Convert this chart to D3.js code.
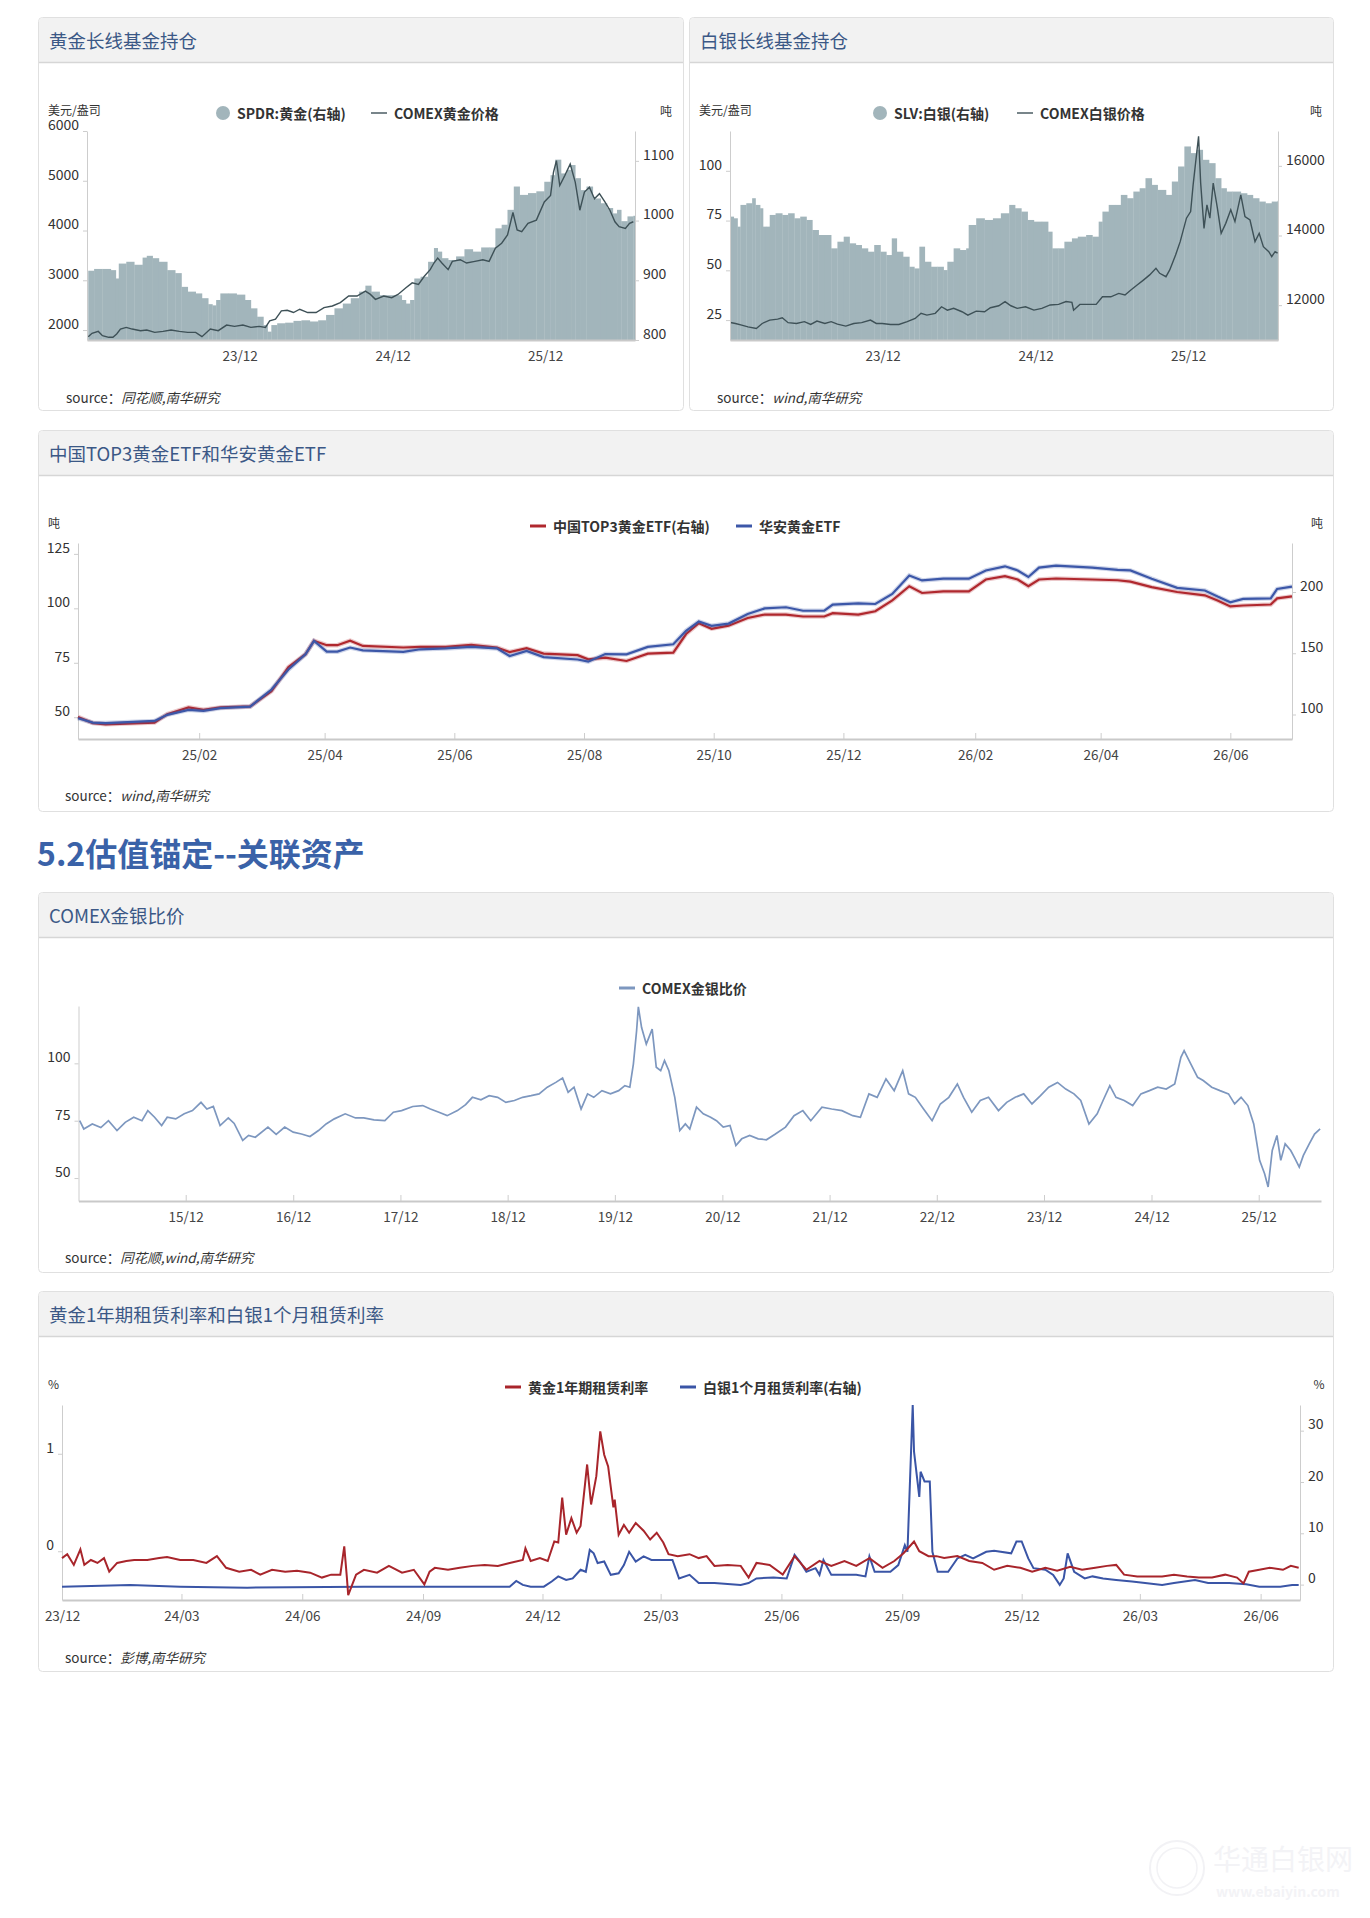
<!DOCTYPE html>
<html>
<head>
<meta charset="utf-8">
<script src="https://cdn.jsdelivr.net/npm/d3@7"></script>
<style>
  body { margin: 0; background: #fff; }
  svg { display: block; font-family: 'Noto Sans CJK SC', 'Noto Sans', sans-serif; }
</style>
</head>
<body>
<svg id="page"></svg>
<script>
// ---- data ----
// SPDR gold holdings, tonnes (right axis)
const goldEtf = [
  ['2022-12-04', 916], ['2022-12-18', 919], ['2023-01-07', 919], ['2023-01-27', 917], ['2023-02-08', 903],
  ['2023-02-15', 928], ['2023-03-05', 931], ['2023-03-24', 926], ['2023-04-13', 938], ['2023-04-23', 941],
  ['2023-05-07', 937], ['2023-05-22', 931], ['2023-06-11', 917], ['2023-06-30', 912], ['2023-07-15', 889],
  ['2023-07-30', 881], ['2023-08-18', 878], ['2023-09-02', 870], ['2023-09-17', 860], ['2023-09-27', 858],
  ['2023-10-06', 867], ['2023-10-16', 878], ['2023-11-05', 878], ['2023-11-24', 876], ['2023-12-14', 867],
  ['2023-12-28', 853], ['2024-01-12', 839], ['2024-01-27', 825], ['2024-02-06', 814], ['2024-02-15', 825],
  ['2024-02-29', 828], ['2024-03-19', 829], ['2024-04-08', 832], ['2024-04-27', 833], ['2024-05-17', 831],
  ['2024-06-06', 833], ['2024-06-25', 842], ['2024-07-15', 853], ['2024-08-04', 861], ['2024-08-23', 870],
  ['2024-09-12', 881], ['2024-09-27', 891], ['2024-10-11', 881], ['2024-10-31', 875], ['2024-11-19', 875],
  ['2024-12-09', 875], ['2024-12-23', 867], ['2025-01-02', 861], ['2025-01-12', 867], ['2025-01-22', 903],
  ['2025-02-06', 906], ['2025-02-24', 931], ['2025-03-10', 954], ['2025-03-19', 948], ['2025-03-29', 937],
  ['2025-04-13', 934], ['2025-05-02', 940], ['2025-05-22', 952], ['2025-06-11', 948], ['2025-07-01', 955],
  ['2025-07-20', 955], ['2025-08-04', 987], ['2025-08-19', 993], ['2025-09-02', 1018], ['2025-09-17', 1057],
  ['2025-10-01', 1043], ['2025-10-21', 1046], ['2025-11-10', 1049], ['2025-11-29', 1065], ['2025-12-14', 1076],
  ['2025-12-25', 1102], ['2026-01-08', 1079], ['2026-01-22', 1085], ['2026-02-01', 1093], ['2026-02-11', 1071],
  ['2026-02-24', 1051], ['2026-03-10', 1057], ['2026-03-25', 1037], ['2026-04-13', 1029], ['2026-04-28', 1021],
  ['2026-05-12', 1012], ['2026-05-22', 1018], ['2026-06-01', 999], ['2026-06-16', 1007], ['2026-06-30', 1008]
]
// COMEX gold, USD/oz (left axis)
const goldPrice = [
  ['2022-12-04', 1867], ['2022-12-13', 1934], ['2022-12-28', 1973], ['2023-01-07', 1887], ['2023-01-22', 1854],
  ['2023-02-01', 1854], ['2023-02-10', 1920], ['2023-02-19', 2020], ['2023-03-05', 2053], ['2023-03-19', 2020],
  ['2023-04-08', 1987], ['2023-04-23', 2000], ['2023-05-12', 1954], ['2023-06-01', 1973], ['2023-06-20', 2000],
  ['2023-07-10', 1973], ['2023-07-30', 1954], ['2023-08-18', 1954], ['2023-09-02', 1867], ['2023-09-22', 2020],
  ['2023-10-11', 1987], ['2023-10-31', 2100], ['2023-11-19', 2073], ['2023-12-09', 2100], ['2023-12-28', 2053],
  ['2024-01-17', 2073], ['2024-02-01', 2053], ['2024-02-11', 2186], ['2024-02-25', 2219], ['2024-03-10', 2385],
  ['2024-03-24', 2398], ['2024-04-08', 2352], ['2024-04-23', 2418], ['2024-05-12', 2352], ['2024-06-01', 2352],
  ['2024-06-20', 2451], ['2024-07-10', 2484], ['2024-07-29', 2551], ['2024-08-18', 2683], ['2024-09-07', 2683],
  ['2024-09-27', 2783], ['2024-10-09', 2716], ['2024-10-21', 2617], ['2024-11-10', 2683], ['2024-11-29', 2650],
  ['2024-12-14', 2716], ['2025-01-02', 2849], ['2025-01-17', 2948], ['2025-02-01', 2915], ['2025-02-15', 3081],
  ['2025-03-01', 3214], ['2025-03-10', 3347], ['2025-03-19', 3446], ['2025-03-29', 3347], ['2025-04-13', 3214],
  ['2025-04-23', 3380], ['2025-05-12', 3413], ['2025-05-27', 3347], ['2025-06-16', 3380], ['2025-07-05', 3413],
  ['2025-07-20', 3380], ['2025-08-04', 3645], ['2025-08-19', 3745], ['2025-09-02', 3910], ['2025-09-15', 4362],
  ['2025-09-25', 4010], ['2025-10-06', 3977], ['2025-10-21', 4143], ['2025-11-10', 4209], ['2025-11-29', 4574],
  ['2025-12-14', 4706], ['2025-12-21', 5171], ['2025-12-28', 5403], ['2026-01-05', 4905], ['2026-01-17', 5104],
  ['2026-01-30', 5337], ['2026-02-11', 4972], ['2026-02-22', 4408], ['2026-03-05', 4773], ['2026-03-17', 4872],
  ['2026-03-29', 4640], ['2026-04-10', 4740], ['2026-04-23', 4574], ['2026-05-05', 4408], ['2026-05-17', 4176],
  ['2026-05-27', 4076], ['2026-06-11', 4043], ['2026-06-21', 4143], ['2026-06-30', 4176]
]
// SLV silver holdings, tonnes (right axis)
const silverEtf = [
  ['2022-12-02', 14542], ['2022-12-10', 14494], ['2022-12-19', 14254], ['2022-12-26', 14878], ['2023-01-09', 14926],
  ['2023-01-23', 15070], ['2023-01-31', 14878], ['2023-02-11', 14782], ['2023-02-18', 14254], ['2023-02-25', 14254],
  ['2023-03-06', 14590], ['2023-03-20', 14638], ['2023-04-05', 14590], ['2023-04-19', 14638], ['2023-05-04', 14494],
  ['2023-05-18', 14542], ['2023-06-02', 14446], ['2023-06-16', 14158], ['2023-07-01', 14014], ['2023-07-16', 14014],
  ['2023-07-31', 13631], ['2023-08-15', 13822], ['2023-08-30', 13966], ['2023-09-13', 13775], ['2023-09-28', 13727],
  ['2023-10-12', 13631], ['2023-10-27', 13535], ['2023-11-11', 13727], ['2023-11-26', 13535], ['2023-12-10', 13439],
  ['2023-12-23', 13918], ['2024-01-04', 13535], ['2024-01-19', 13391], ['2024-02-03', 13103], ['2024-02-15', 13055],
  ['2024-02-27', 13679], ['2024-03-11', 13247], ['2024-03-26', 13103], ['2024-04-10', 13103], ['2024-04-25', 13007],
  ['2024-05-04', 13247], ['2024-05-19', 13631], ['2024-06-03', 13583], ['2024-06-18', 13631], ['2024-06-24', 14302],
  ['2024-07-12', 14494], ['2024-08-01', 14446], ['2024-08-21', 14494], ['2024-09-09', 14638], ['2024-09-29', 14878],
  ['2024-10-13', 14782], ['2024-10-28', 14686], ['2024-11-12', 14446], ['2024-11-27', 14398], ['2024-12-16', 14398],
  ['2024-12-31', 14110], ['2025-01-10', 13631], ['2025-01-25', 13631], ['2025-02-08', 13822], ['2025-02-26', 13918],
  ['2025-03-12', 13966], ['2025-04-01', 14014], ['2025-04-16', 13966], ['2025-05-01', 14398], ['2025-05-10', 14686],
  ['2025-05-25', 14878], ['2025-06-09', 14878], ['2025-06-23', 15165], ['2025-07-08', 15070], ['2025-07-23', 15261],
  ['2025-08-07', 15357], ['2025-08-21', 15645], ['2025-09-05', 15453], ['2025-09-19', 15309], ['2025-10-09', 15165],
  ['2025-10-23', 15549], ['2025-11-07', 15981], ['2025-11-22', 16556], ['2025-12-07', 16365], ['2025-12-21', 16460],
  ['2026-01-05', 16173], ['2026-01-20', 16077], ['2026-02-04', 15645], ['2026-02-18', 15357], ['2026-03-03', 15261],
  ['2026-03-17', 15261], ['2026-04-06', 15213], ['2026-04-21', 15165], ['2026-05-05', 15070], ['2026-05-20', 14974],
  ['2026-06-04', 14926], ['2026-06-19', 14974], ['2026-07-03', 14998]
]
// COMEX silver, USD/oz (left axis)
const silverPrice = [
  ['2022-12-02', 23.8], ['2022-12-14', 23.3], ['2022-12-29', 22.5], ['2023-01-13', 21.6], ['2023-02-02', 20.8],
  ['2023-02-16', 23.3], ['2023-03-06', 25], ['2023-03-25', 25.5], ['2023-04-05', 26.2], ['2023-04-19', 23.7],
  ['2023-05-09', 23.3], ['2023-05-28', 24.2], ['2023-06-12', 22.8], ['2023-06-27', 24.5], ['2023-07-16', 23.3],
  ['2023-07-31', 24.2], ['2023-08-15', 23], ['2023-09-04', 22], ['2023-09-23', 23.3], ['2023-10-12', 23.7],
  ['2023-11-02', 25], ['2023-11-16', 23.3], ['2023-11-30', 23.3], ['2023-12-20', 22.8], ['2024-01-09', 22.8],
  ['2024-01-29', 24.2], ['2024-02-17', 25.8], ['2024-03-02', 28.4], ['2024-03-16', 27.5], ['2024-04-05', 28.4],
  ['2024-04-20', 31.7], ['2024-05-04', 30], ['2024-05-19', 30.9], ['2024-06-08', 29.2], ['2024-06-22', 27.5],
  ['2024-07-12', 29.5], ['2024-08-01', 29.2], ['2024-08-15', 31.2], ['2024-09-04', 32.2], ['2024-09-19', 34.3],
  ['2024-10-03', 32.2], ['2024-10-18', 30.9], ['2024-11-07', 31.7], ['2024-11-27', 30], ['2024-12-16', 30.9],
  ['2025-01-05', 32.6], ['2025-01-25', 32.9], ['2025-02-12', 34.3], ['2025-02-26', 33.9], ['2025-03-02', 30],
  ['2025-03-17', 32.9], ['2025-04-06', 32.9], ['2025-04-25', 32.9], ['2025-05-10', 36.7], ['2025-05-30', 36.7],
  ['2025-06-18', 38.4], ['2025-07-03', 37.6], ['2025-07-17', 40.1], ['2025-08-01', 42.6], ['2025-08-16', 45.1],
  ['2025-08-31', 47.7], ['2025-09-15', 51], ['2025-09-24', 48.5], ['2025-10-09', 46.8], ['2025-10-18', 50.2],
  ['2025-11-01', 57.7], ['2025-11-12', 64.4], ['2025-11-27', 76.2], ['2025-12-07', 79.5], ['2025-12-13', 93],
  ['2025-12-21', 108], ['2025-12-26', 117.3], ['2025-12-31', 93.8], ['2026-01-08', 71.1], ['2026-01-15', 82.9],
  ['2026-01-22', 76.2], ['2026-01-30', 93.8], ['2026-02-09', 81.2], ['2026-02-18', 68.6], ['2026-03-01', 73.6],
  ['2026-03-13', 80.4], ['2026-03-23', 74.5], ['2026-04-06', 87.9], ['2026-04-16', 77], ['2026-04-28', 75.3],
  ['2026-05-10', 64.4], ['2026-05-20', 68.6], ['2026-05-30', 61.9], ['2026-06-12', 59.4], ['2026-06-19', 56.9],
  ['2026-06-27', 59.4], ['2026-07-03', 58.6]
]

// China ETF holdings, tonnes
const etfDates = [
  '2024-12-06', '2024-12-13', '2024-12-19', '2025-01-11', '2025-01-17', '2025-01-27', '2025-02-03', '2025-02-11',
  '2025-02-25', '2025-03-07', '2025-03-15', '2025-03-23', '2025-03-27', '2025-04-02', '2025-04-07', '2025-04-13',
  '2025-04-19', '2025-05-08', '2025-05-16', '2025-05-28', '2025-06-09', '2025-06-21', '2025-06-27', '2025-07-05',
  '2025-07-13', '2025-07-29', '2025-08-03', '2025-08-11', '2025-08-21', '2025-08-31', '2025-09-12', '2025-09-18',
  '2025-09-24', '2025-09-30', '2025-10-08', '2025-10-17', '2025-10-25', '2025-11-04', '2025-11-12', '2025-11-22',
  '2025-11-26', '2025-12-08', '2025-12-16', '2025-12-24', '2026-01-01', '2026-01-07', '2026-01-17', '2026-01-29',
  '2026-02-06', '2026-02-15', '2026-02-21', '2026-02-26', '2026-03-03', '2026-03-11', '2026-03-28', '2026-04-09',
  '2026-04-15', '2026-04-25', '2026-05-07', '2026-05-20', '2026-05-26', '2026-06-01', '2026-06-07', '2026-06-20',
  '2026-06-23', '2026-06-30'
]
// 中国TOP3黄金ETF (right axis)
const top3Etf = [
  98, 93, 92, 93.4, 100.3, 105.8, 103.8, 105.8, 106.6, 119, 138.7, 149.2, 160.2, 156.6, 156.6, 160.2,
  156, 154.7, 155.2, 155.2, 156.9, 154.7, 151, 154.1, 149.7, 148.4, 145, 146.4, 143.7, 149.7, 150.5, 165.7,
  174.5, 170, 172.5, 178.8, 181.6, 181.6, 180, 180, 182.7, 181.5, 184.3, 193.1, 204.7, 199.2, 200.5, 200.5,
  210.2, 212.9, 210.2, 204.7, 210.2, 211, 210.2, 209.6, 208.5, 204, 200, 197.3, 193.1, 188.2, 189, 189.8,
  194.8, 196.4
]
// 华安黄金ETF (left axis)
const huaanEtf = [
  49.5, 47.5, 47.3, 48.3, 51.1, 53.4, 52.9, 54.2, 54.9, 62.7, 71.9, 78.9, 85, 80.1, 80.1, 82,
  80.7, 80, 81.2, 81.6, 82.3, 81.6, 78.1, 80.4, 77.6, 76.5, 75.5, 79, 78.9, 82.3, 83.5, 89.7,
  94, 92, 93, 97.4, 100, 100.5, 98.9, 98.9, 101.7, 102.3, 102, 106.6, 115.1, 112.8, 113.6, 113.6,
  117.4, 119.3, 117.4, 114.4, 118.7, 119.6, 118.7, 117.7, 117.4, 113.6, 109.4, 108.2, 105.4, 102.8, 104.3, 104.6,
  108.9, 110
]

// COMEX gold / silver ratio
const ratio = [
  ['2014-12-05', 75], ['2014-12-19', 71.4], ['2015-01-17', 73.6], ['2015-02-15', 72], ['2015-03-13', 75],
  ['2015-04-11', 70.7], ['2015-05-09', 74.3], ['2015-06-07', 76.5], ['2015-07-05', 75], ['2015-07-25', 79.4],
  ['2015-08-17', 76.5], ['2015-09-10', 72.9], ['2015-09-29', 76.5], ['2015-10-28', 75.8], ['2015-11-26', 78],
  ['2015-12-24', 79.4], ['2016-01-22', 83], ['2016-02-11', 80.1], ['2016-03-04', 81.2], ['2016-03-27', 72.9],
  ['2016-04-24', 76.2], ['2016-05-14', 73.8], ['2016-06-12', 66.4], ['2016-07-02', 68.6], ['2016-07-25', 67.8],
  ['2016-09-06', 72.2], ['2016-10-04', 69], ['2016-11-02', 72.2], ['2016-12-01', 70], ['2016-12-29', 69.2],
  ['2017-01-27', 68.1], ['2017-02-25', 70.7], ['2017-03-23', 73.6], ['2017-04-20', 75.8], ['2017-05-27', 78],
  ['2017-07-01', 76.2], ['2017-07-29', 76.2], ['2017-09-02', 75.4], ['2017-10-09', 75], ['2017-11-07', 78.7],
  ['2017-12-05', 79.4], ['2018-01-12', 81.2], ['2018-02-15', 81.6], ['2018-03-13', 80.1], ['2018-04-11', 78.7],
  ['2018-05-09', 77.2], ['2018-06-13', 79.4], ['2018-07-11', 82], ['2018-08-03', 85.2], ['2018-09-01', 84.1],
  ['2018-09-29', 85.9], ['2018-10-28', 85.2], ['2018-11-25', 83], ['2018-12-24', 83.8], ['2019-01-21', 85.2],
  ['2019-02-19', 85.9], ['2019-03-18', 86.7], ['2019-04-15', 89.6], ['2019-05-14', 91.7], ['2019-06-06', 93.6],
  ['2019-06-25', 87.4], ['2019-07-15', 89.6], ['2019-08-08', 80.1], ['2019-08-30', 86.7], ['2019-09-20', 85.2],
  ['2019-10-18', 88.1], ['2019-11-16', 86.7], ['2019-12-14', 88.1], ['2020-01-04', 90.3], ['2020-01-21', 89.6],
  ['2020-02-02', 99.7], ['2020-02-13', 114.2], ['2020-02-19', 124.6], ['2020-03-01', 115.6], ['2020-03-17', 108.4],
  ['2020-04-06', 114.9], ['2020-04-20', 98.3], ['2020-05-05', 96.8], ['2020-05-18', 101.2], ['2020-06-02', 96.8],
  ['2020-06-22', 85.2], ['2020-07-09', 70.7], ['2020-07-28', 73.6], ['2020-08-12', 71.4], ['2020-09-04', 80.9],
  ['2020-09-27', 78], ['2020-10-22', 76.5], ['2020-11-11', 75], ['2020-12-04', 72.2], ['2020-12-27', 72.9],
  ['2021-01-16', 64.2], ['2021-02-05', 67.1], ['2021-03-04', 68.6], ['2021-04-02', 67.1], ['2021-04-30', 66.7],
  ['2021-05-28', 69], ['2021-07-04', 72.2], ['2021-08-02', 77.2], ['2021-09-01', 79.4], ['2021-09-28', 75],
  ['2021-11-05', 80.9], ['2021-12-08', 80.1], ['2022-01-12', 79.4], ['2022-02-18', 77.2], ['2022-03-16', 76.5],
  ['2022-04-14', 86.7], ['2022-05-12', 85.2], ['2022-06-11', 93.2], ['2022-07-09', 88.1], ['2022-08-07', 96.8],
  ['2022-08-27', 86.7], ['2022-09-19', 85.2], ['2022-10-17', 80.1], ['2022-11-15', 75], ['2022-12-13', 82.3],
  ['2023-01-11', 85.2], ['2023-02-09', 91], ['2023-03-02', 85.2], ['2023-03-30', 78.7], ['2023-04-28', 83.8],
  ['2023-05-26', 85.2], ['2023-06-29', 79.4], ['2023-07-27', 83], ['2023-08-25', 85.2], ['2023-09-23', 86.7],
  ['2023-10-21', 82.3], ['2023-11-19', 85.9], ['2023-12-17', 89.6], ['2024-01-16', 91.7], ['2024-02-13', 88.8],
  ['2024-03-12', 86.7], ['2024-04-04', 83.8], ['2024-05-02', 73.6], ['2024-05-30', 78], ['2024-06-19', 83.8],
  ['2024-07-12', 90.3], ['2024-08-02', 85.2], ['2024-08-30', 83.8], ['2024-09-28', 81.6], ['2024-10-26', 86.7],
  ['2024-11-24', 88.1], ['2024-12-22', 89.6], ['2025-01-20', 88.8], ['2025-02-18', 91], ['2025-03-11', 102.6],
  ['2025-03-22', 105.5], ['2025-04-14', 99.7], ['2025-05-07', 93.9], ['2025-05-26', 92.5], ['2025-06-24', 89.6],
  ['2025-07-22', 88.1], ['2025-08-20', 86.7], ['2025-09-10', 82.3], ['2025-10-02', 85.2], ['2025-10-25', 81.6],
  ['2025-11-14', 73.6], ['2025-12-04', 57.7], ['2025-12-21', 51.9], ['2026-01-02', 46.1], ['2026-01-16', 62],
  ['2026-02-01', 68.6], ['2026-02-14', 57.7], ['2026-03-01', 64.9], ['2026-03-20', 62], ['2026-04-04', 58.4],
  ['2026-04-18', 54.8], ['2026-05-02', 59.9], ['2026-05-22', 64.9], ['2026-06-09', 69.2], ['2026-06-28', 71.4]
]

// gold 1Y lease rate, % (left axis)
const goldLease = [
  ['2023-12-01', -0.07], ['2023-12-05', -0.03], ['2023-12-10', -0.14], ['2023-12-15', 0.02], ['2023-12-18', -0.14],
  ['2023-12-23', -0.09], ['2023-12-28', -0.12], ['2024-01-02', -0.07], ['2024-01-06', -0.21], ['2024-01-12', -0.12],
  ['2024-01-19', -0.1], ['2024-01-25', -0.09], ['2024-02-04', -0.09], ['2024-02-13', -0.07], ['2024-02-19', -0.06],
  ['2024-02-29', -0.09], ['2024-03-10', -0.09], ['2024-03-20', -0.12], ['2024-03-28', -0.05], ['2024-04-04', -0.17],
  ['2024-04-14', -0.21], ['2024-04-23', -0.19], ['2024-04-30', -0.24], ['2024-05-09', -0.19], ['2024-05-19', -0.21],
  ['2024-05-28', -0.2], ['2024-06-07', -0.22], ['2024-06-16', -0.27], ['2024-06-23', -0.24], ['2024-06-30', -0.24],
  ['2024-07-03', 0.05], ['2024-07-05', -0.27], ['2024-07-06', -0.45], ['2024-07-12', -0.24], ['2024-07-18', -0.19],
  ['2024-07-28', -0.22], ['2024-08-06', -0.15], ['2024-08-16', -0.22], ['2024-08-25', -0.19], ['2024-09-02', -0.34],
  ['2024-09-06', -0.21], ['2024-09-10', -0.17], ['2024-09-20', -0.19], ['2024-09-29', -0.17], ['2024-10-09', -0.15],
  ['2024-10-18', -0.14], ['2024-10-28', -0.15], ['2024-11-06', -0.12], ['2024-11-16', -0.09], ['2024-11-18', 0.03],
  ['2024-11-22', -0.1], ['2024-11-29', -0.07], ['2024-12-05', -0.1], ['2024-12-10', 0.1], ['2024-12-13', 0.09],
  ['2024-12-16', 0.55], ['2024-12-19', 0.17], ['2024-12-23', 0.34], ['2024-12-27', 0.19], ['2024-12-30', 0.26],
  ['2025-01-04', 0.89], ['2025-01-07', 0.48], ['2025-01-11', 0.77], ['2025-01-14', 1.23], ['2025-01-17', 0.99],
  ['2025-01-20', 0.87], ['2025-01-24', 0.45], ['2025-01-25', 0.53], ['2025-01-28', 0.17], ['2025-02-01', 0.27],
  ['2025-02-05', 0.19], ['2025-02-10', 0.29], ['2025-02-16', 0.21], ['2025-02-21', 0.12], ['2025-02-26', 0.19],
  ['2025-03-03', 0.09], ['2025-03-07', -0.03], ['2025-03-14', -0.05], ['2025-03-23', -0.03], ['2025-03-30', -0.07],
  ['2025-04-05', -0.05], ['2025-04-11', -0.15], ['2025-04-21', -0.14], ['2025-05-01', -0.15], ['2025-05-07', -0.27],
  ['2025-05-13', -0.12], ['2025-05-23', -0.14], ['2025-06-02', -0.24], ['2025-06-11', -0.05], ['2025-06-20', -0.19],
  ['2025-06-30', -0.1], ['2025-07-09', -0.15], ['2025-07-19', -0.1], ['2025-07-28', -0.15], ['2025-08-07', -0.07],
  ['2025-08-17', -0.17], ['2025-08-26', -0.1], ['2025-09-02', -0.02], ['2025-09-10', 0.1], ['2025-09-14', 0],
  ['2025-09-21', -0.05], ['2025-09-27', -0.05], ['2025-10-03', -0.07], ['2025-10-13', -0.05], ['2025-10-22', -0.1],
  ['2025-11-01', -0.12], ['2025-11-10', -0.19], ['2025-11-20', -0.15], ['2025-11-30', -0.17], ['2025-12-09', -0.21],
  ['2025-12-19', -0.17], ['2025-12-28', -0.2], ['2026-01-07', -0.16], ['2026-01-16', -0.19], ['2026-01-26', -0.17],
  ['2026-02-04', -0.15], ['2026-02-11', -0.14], ['2026-02-17', -0.24], ['2026-02-27', -0.26], ['2026-03-08', -0.26],
  ['2026-03-18', -0.26], ['2026-03-27', -0.24], ['2026-04-06', -0.26], ['2026-04-15', -0.27], ['2026-04-25', -0.27],
  ['2026-05-05', -0.24], ['2026-05-14', -0.27], ['2026-05-19', -0.33], ['2026-05-23', -0.21], ['2026-05-31', -0.19],
  ['2026-06-08', -0.17], ['2026-06-18', -0.19], ['2026-06-24', -0.15], ['2026-06-30', -0.17]
]
// silver 1M lease rate, % (right axis)
const silverLease = [
  ['2023-12-01', -0.4], ['2024-01-22', -0.06], ['2024-02-29', -0.4], ['2024-04-20', -0.6], ['2024-07-18', -0.4],
  ['2024-11-06', -0.4], ['2024-11-11', 0.7], ['2024-11-16', -0.06], ['2024-11-22', -0.4], ['2024-12-02', -0.4],
  ['2024-12-08', 0.6], ['2024-12-13', 1.6], ['2024-12-19', 0.9], ['2024-12-24', 1.2], ['2024-12-30', 2.9],
  ['2025-01-03', 2.5], ['2025-01-06', 6.75], ['2025-01-09', 6.1], ['2025-01-12', 4.2], ['2025-01-17', 4.5],
  ['2025-01-22', 1.9], ['2025-01-28', 2.2], ['2025-02-01', 3.8], ['2025-02-05', 6.4], ['2025-02-10', 4.5],
  ['2025-02-16', 5.5], ['2025-02-22', 4.8], ['2025-03-10', 4.8], ['2025-03-15', 1.2], ['2025-03-23', 1.9],
  ['2025-03-30', 0.3], ['2025-04-11', 0.3], ['2025-05-01', -0.06], ['2025-05-07', 0.3], ['2025-05-13', 1.2],
  ['2025-05-26', 1.4], ['2025-06-05', 1.2], ['2025-06-11', 5.8], ['2025-06-15', 4.5], ['2025-06-20', 2.5],
  ['2025-06-27', 3.2], ['2025-06-30', 1.9], ['2025-07-03', 4.8], ['2025-07-09', 1.9], ['2025-07-28', 1.9],
  ['2025-08-04', 1.6], ['2025-08-07', 5.5], ['2025-08-11', 2.5], ['2025-08-23', 2.5], ['2025-08-29', 3.8],
  ['2025-09-03', 7.7], ['2025-09-05', 6.4], ['2025-09-09', 35], ['2025-09-10', 25.9], ['2025-09-14', 17.1],
  ['2025-09-15', 22], ['2025-09-18', 20.1], ['2025-09-22', 20.1], ['2025-09-24', 6.4], ['2025-09-28', 2.5],
  ['2025-10-06', 2.5], ['2025-10-13', 5.1], ['2025-10-19', 5.8], ['2025-10-25', 5.1], ['2025-11-04', 6.4],
  ['2025-11-10', 6.6], ['2025-11-23', 6.1], ['2025-11-27', 8.4], ['2025-12-01', 8.4], ['2025-12-06', 5.1],
  ['2025-12-10', 3.2], ['2025-12-19', 2.9], ['2025-12-25', 1.9], ['2025-12-30', -0.06], ['2026-01-02', 1.2],
  ['2026-01-05', 6.1], ['2026-01-10', 2.5], ['2026-01-18', 1.2], ['2026-01-24', 1.6], ['2026-02-01', 1.2],
  ['2026-02-11', 0.9], ['2026-02-23', 0.6], ['2026-03-05', 0.3], ['2026-03-18', -0.06], ['2026-03-27', 0.3],
  ['2026-04-12', 0.9], ['2026-04-22', 0.3], ['2026-05-08', 0.3], ['2026-05-21', 0.06], ['2026-05-31', -0.4],
  ['2026-06-16', -0.4], ['2026-06-25', -0.06], ['2026-06-30', -0.06]
]

// ---- helpers ----
const parse = d3.timeParse('%Y-%m-%d')
const fmtMonth = d3.timeFormat('%y/%m')
const fmtNum = d3.format('d')
const pairs = arr => arr.map(d => ({ date: parse(d[0]), value: d[1] }))
// month ticks on a fixed step, counted from the first tick month
const monthTicks = (from, to, step) => d3.timeMonth.range(parse(from), parse(to)).filter((d, i) => i % step === 0)

const svg = d3.select('#page').attr('width', 1370).attr('height', 1918)

function panel(x, y, w, h, title) {
  svg.append('rect')
    .attr('x', x + 0.5).attr('y', y + 0.5)
    .attr('width', w - 1).attr('height', h - 1)
    .attr('rx', 4)
    .attr('fill', '#fff')
    .attr('stroke', '#e0e0e0')
  svg.append('path')
    .attr('d', `M${x + 1},${y + 45} V${y + 5} Q${x + 1},${y + 1} ${x + 5},${y + 1} H${x + w - 5} Q${x + w - 1},${y + 1} ${x + w - 1},${y + 5} V${y + 45} Z`)
    .attr('fill', '#f2f2f2')
  svg.append('line')
    .attr('x1', x + 1).attr('x2', x + w - 1)
    .attr('y1', y + 45.5).attr('y2', y + 45.5)
    .attr('stroke', '#d6d6d6')
    .attr('stroke-width', 1.5)
  svg.append('text')
    .attr('x', x + 11).attr('y', y + 23)
    .attr('dominant-baseline', 'central')
    .attr('font-size', 18.5)
    .attr('fill', '#3b5886')
    .text(title)
}

function styleAxis(g, size) {
  g.attr('font-family', null).attr('font-size', size || 14)
  g.select('.domain').attr('stroke', '#cdcdcd')
  g.selectAll('.tick line').attr('stroke', '#cdcdcd')
  g.selectAll('.tick text').attr('fill', '#333')
  return g
}

function yAxis(scale, x, ticks, side) {
  const axis = (side === 'right' ? d3.axisRight(scale) : d3.axisLeft(scale))
    .tickValues(ticks)
    .tickFormat(fmtNum)
    .tickSize(4)
    .tickSizeOuter(0)
    .tickPadding(4)
  const g = svg.append('g')
    .attr('transform', `translate(${x},0)`)
    .call(axis)
  styleAxis(g)
  g.selectAll('.tick text').attr('dy', '-0.12em')
}

function xAxis(scale, y, ticks, inner) {
  const g = svg.append('g')
    .attr('transform', `translate(0,${y})`)
    .call(d3.axisBottom(scale)
      .tickValues(ticks)
      .tickFormat(fmtMonth)
      .tickSizeInner(inner ? -6 : 0)
      .tickSizeOuter(0)
      .tickPadding(11))
  styleAxis(g, 13.5)
  g.select('.domain').attr('stroke', '#c9c9c9').attr('stroke-width', 2)
  g.selectAll('.tick text').attr('fill', '#444')
}

function unitLabel(x, y, txt, anchor) {
  svg.append('text')
    .attr('x', x).attr('y', y)
    .attr('text-anchor', anchor || 'start')
    .attr('dominant-baseline', 'central')
    .attr('font-size', 12)
    .attr('fill', '#333')
    .text(txt)
}

function source(x, y, name) {
  const t = svg.append('text')
    .attr('x', x).attr('y', y)
    .attr('dominant-baseline', 'central')
    .attr('font-size', 13.5)
    .attr('fill', '#333')
  t.append('tspan').text('source：')
  t.append('tspan').attr('font-style', 'italic').text(name)
}

function legendLine(x, y, color, label, w) {
  svg.append('line')
    .attr('x1', x).attr('x2', x + (w || 16))
    .attr('y1', y).attr('y2', y)
    .attr('stroke', color)
    .attr('stroke-width', 3)
  svg.append('text')
    .attr('x', x + (w || 16) + 7).attr('y', y)
    .attr('dominant-baseline', 'central')
    .attr('font-size', 14)
    .attr('font-weight', 'bold')
    .attr('fill', '#333')
    .text(label)
}

// ---- panels 1 & 2: ETF holdings (bars) + COMEX price (line) ----
function holdingsChart(cfg) {
  panel(cfg.px, 17, cfg.pw, 394, cfg.title)
  const bars = pairs(cfg.bars)
  const line = pairs(cfg.line)

  const x = d3.scaleTime()
    .domain([parse('2022-12-01'), parse('2026-07-04')])
    .range([cfg.x0, cfg.x1])
  const yL = d3.scaleLinear().domain(cfg.leftDomain).range([340, 131])
  const yR = d3.scaleLinear().domain(cfg.rightDomain).range([340, 131])

  svg.append('g')
    .selectAll('rect')
    .data(bars)
    .enter()
    .append('rect')
    .attr('x', d => x(d.date))
    .attr('y', d => yR(d.value))
    .attr('width', (d, i) => (i < bars.length - 1 ? x(bars[i + 1].date) : cfg.x1) - x(d.date) + 0.3)
    .attr('height', d => 340 - yR(d.value))
    .attr('fill', '#a2b5bb')

  svg.append('path')
    .attr('d', d3.line().x(d => x(d.date)).y(d => yL(d.value))(line))
    .attr('fill', 'none')
    .attr('stroke', '#3e5157')
    .attr('stroke-width', 1.4)

  yAxis(yL, cfg.x0, cfg.leftTicks, 'left')
  yAxis(yR, cfg.x1, cfg.rightTicks, 'right')
  xAxis(x, 340, [parse('2023-12-01'), parse('2024-12-01'), parse('2025-12-01')], false)

  unitLabel(cfg.px + 10, 109, '美元/盎司')
  unitLabel(cfg.px + cfg.pw - 18, 110, '吨', 'middle')

  svg.append('circle')
    .attr('cx', cfg.legendX).attr('cy', 113).attr('r', 7)
    .attr('fill', '#a2b5bb')
  svg.append('text')
    .attr('x', cfg.legendX + 14).attr('y', 113)
    .attr('dominant-baseline', 'central')
    .attr('font-size', 14)
    .attr('font-weight', 'bold')
    .attr('fill', '#333')
    .text(cfg.barLabel)
  svg.append('line')
    .attr('x1', cfg.legendX + cfg.lineOffset).attr('x2', cfg.legendX + cfg.lineOffset + 16)
    .attr('y1', 113).attr('y2', 113)
    .attr('stroke', '#4b5d63')
    .attr('stroke-width', 1.5)
  svg.append('text')
    .attr('x', cfg.legendX + cfg.lineOffset + 23).attr('y', 113)
    .attr('dominant-baseline', 'central')
    .attr('font-size', 14)
    .attr('font-weight', 'bold')
    .attr('fill', '#333')
    .text(cfg.lineLabel)

  source(cfg.px + 28, 397, cfg.src)
}

holdingsChart({
  px: 38, pw: 646, x0: 87, x1: 635, title: '黄金长线基金持仓',
  bars: goldEtf, line: goldPrice,
  leftDomain: [1800, 6000], rightDomain: [800, 1150],
  leftTicks: [2000, 3000, 4000, 5000, 6000], rightTicks: [800, 900, 1000, 1100],
  legendX: 223, lineOffset: 148, barLabel: 'SPDR:黄金(右轴)', lineLabel: 'COMEX黄金价格',
  src: '同花顺,南华研究'
})

holdingsChart({
  px: 689, pw: 645, x0: 730, x1: 1278, title: '白银长线基金持仓',
  bars: silverEtf, line: silverPrice,
  leftDomain: [15, 120], rightDomain: [11000, 17000],
  leftTicks: [25, 50, 75, 100], rightTicks: [12000, 14000, 16000],
  legendX: 880, lineOffset: 137, barLabel: 'SLV:白银(右轴)', lineLabel: 'COMEX白银价格',
  src: 'wind,南华研究'
})

// ---- panel 3: China gold ETFs ----
panel(38, 430, 1296, 382, '中国TOP3黄金ETF和华安黄金ETF')
{
  const dates = etfDates.map(parse)
  const x = d3.scaleTime()
    .domain([parse('2024-12-06'), parse('2026-06-30')])
    .range([78, 1292])
  const yL = d3.scaleLinear().domain([40, 130]).range([739, 543])
  const yR = d3.scaleLinear().domain([80, 240]).range([739, 543])

  yAxis(yL, 78, [50, 75, 100, 125], 'left')
  yAxis(yR, 1292, [100, 150, 200], 'right')
  xAxis(x, 739, monthTicks('2025-02-01', '2026-07-01', 2), true)

  const series = [
    { values: top3Etf, y: yR, color: '#b0282e' },
    { values: huaanEtf, y: yL, color: '#3c57a8' }
  ]
  series.forEach(s => {
    const ln = d3.line().x((d, i) => x(dates[i])).y(d => s.y(d))
    svg.append('path').attr('d', ln(s.values)).attr('fill', 'none')
      .attr('stroke', s.color).attr('stroke-opacity', 0.25).attr('stroke-width', 4.5)
    svg.append('path').attr('d', ln(s.values)).attr('fill', 'none')
      .attr('stroke', s.color).attr('stroke-width', 2.2)
  })

  unitLabel(48, 522, '吨')
  unitLabel(1317, 522, '吨', 'middle')
  legendLine(530, 526, '#b0282e', '中国TOP3黄金ETF(右轴)')
  legendLine(736, 526, '#3c57a8', '华安黄金ETF')
  source(65, 795, 'wind,南华研究')
}

// ---- heading ----
svg.append('text')
  .attr('x', 37).attr('y', 852)
  .attr('dominant-baseline', 'central')
  .attr('font-size', 32)
  .attr('font-weight', 'bold')
  .attr('fill', '#3a62a8')
  .text('5.2估值锚定--关联资产')

// ---- panel 4: gold / silver ratio ----
panel(38, 892, 1296, 381, 'COMEX金银比价')
{
  const data = pairs(ratio)
  const x = d3.scaleTime()
    .domain([parse('2014-12-01'), parse('2026-07-01')])
    .range([78.5, 1321])
  const y = d3.scaleLinear().domain([40, 125]).range([1201, 1006])

  yAxis(y, 78.5, [50, 75, 100], 'left')
  xAxis(x, 1201, monthTicks('2015-12-01', '2026-01-01', 12), true)

  svg.append('path')
    .attr('d', d3.line().x(d => x(d.date)).y(d => y(d.value))(data))
    .attr('fill', 'none')
    .attr('stroke', '#7d97bf')
    .attr('stroke-width', 1.7)

  legendLine(619, 988, '#7d97bf', 'COMEX金银比价')
  source(65, 1257, '同花顺,wind,南华研究')
}

// ---- panel 5: lease rates ----
panel(38, 1291, 1296, 381, '黄金1年期租赁利率和白银1个月租赁利率')
{
  const gold = pairs(goldLease)
  const silver = pairs(silverLease)
  const x = d3.scaleTime()
    .domain([parse('2023-12-01'), parse('2026-07-01')])
    .range([62, 1300])
  const yL = d3.scaleLinear().domain([-0.5, 1.5]).range([1600, 1405])
  const yR = d3.scaleLinear().domain([-3, 35]).range([1600, 1405])

  yAxis(yL, 62, [0, 1], 'left')
  yAxis(yR, 1300, [0, 10, 20, 30], 'right')
  xAxis(x, 1600, monthTicks('2023-12-01', '2026-07-01', 3), true)

  svg.append('path')
    .attr('d', d3.line().x(d => x(d.date)).y(d => yR(d.value))(silver))
    .attr('fill', 'none')
    .attr('stroke', '#3a55a6')
    .attr('stroke-width', 2)
  svg.append('path')
    .attr('d', d3.line().x(d => x(d.date)).y(d => yL(d.value))(gold))
    .attr('fill', 'none')
    .attr('stroke', '#a8252b')
    .attr('stroke-width', 2)

  unitLabel(48, 1383, '%')
  unitLabel(1319, 1383, '%', 'middle')
  legendLine(505, 1387, '#a8252b', '黄金1年期租赁利率')
  legendLine(680, 1387, '#3a55a6', '白银1个月租赁利率(右轴)')
  source(65, 1657, '彭博,南华研究')
}

// ---- faint watermark ----
{
  const wm = svg.append('g').attr('fill', 'none').attr('stroke', '#f2f2f5')
  wm.append('circle').attr('cx', 1177).attr('cy', 1868).attr('r', 27).attr('stroke-width', 2)
  wm.append('circle').attr('cx', 1177).attr('cy', 1868).attr('r', 20).attr('stroke-width', 1.5)
  svg.append('text')
    .attr('x', 1213).attr('y', 1858)
    .attr('dominant-baseline', 'central')
    .attr('font-size', 28)
    .attr('fill', '#f3f3f6')
    .text('华通白银网')
  svg.append('text')
    .attr('x', 1216).attr('y', 1891)
    .attr('dominant-baseline', 'central')
    .attr('font-size', 14)
    .attr('font-weight', 'bold')
    .attr('fill', '#f3f3f6')
    .text('www.ebaiyin.com')
}
</script>
</body>
</html>
